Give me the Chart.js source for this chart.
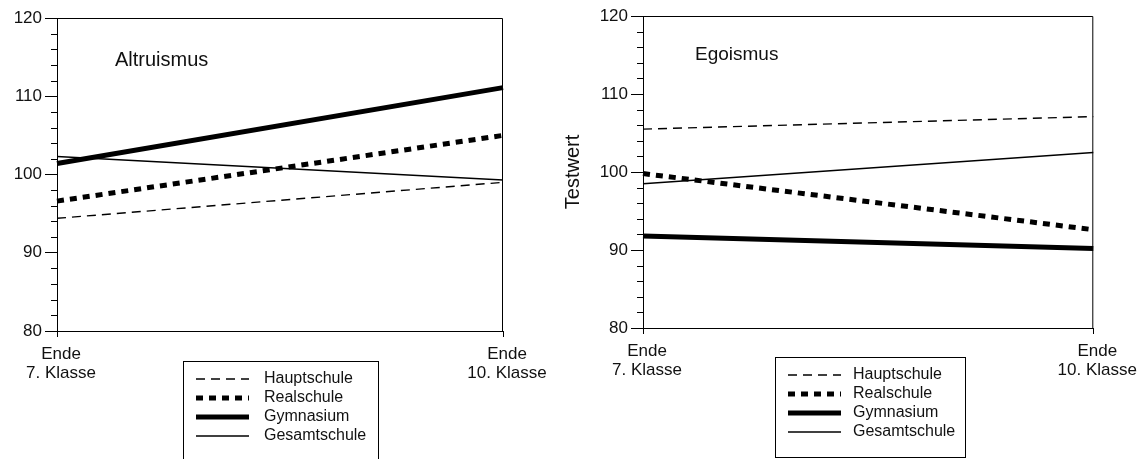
<!DOCTYPE html>
<html>
<head>
<meta charset="utf-8">
<script src="https://cdn.jsdelivr.net/npm/chart.js@4.4.1/dist/chart.umd.min.js"></script>
<style>
  html, body { margin: 0; padding: 0; background: #fff; }
  #wrap { position: relative; width: 1141px; height: 459px; overflow: hidden; }
  .panel { position: absolute; top: 0; height: 459px; }
</style>
</head>
<body>
<div id="wrap">
  <div class="panel" style="left:0; width:560px"><canvas id="altruismus"></canvas></div>
  <div class="panel" style="left:560px; width:581px"><canvas id="egoismus"></canvas></div>
</div>
<script>
// data
const categories = [['Ende', '7. Klasse'], ['Ende', '10. Klasse']];
const schoolTypes = ['Hauptschule', 'Realschule', 'Gymnasium', 'Gesamtschule'];
const yMin = 80;
const yMax = 120;

const altHauptschule = [94.4, 99.0];
const altRealschule = [96.6, 105.0];
const altGymnasium = [101.4, 111.1];
const altGesamtschule = [102.3, 99.3];

const egoHauptschule = [105.5, 107.1];
const egoRealschule = [99.8, 92.6];
const egoGymnasium = [91.8, 90.2];
const egoGesamtschule = [98.5, 102.5];

Chart.defaults.font.family = '"Liberation Sans", Arial, sans-serif';
Chart.defaults.color = '#111';

// line look per school type (same order as schoolTypes)
const lineStyles = [
    { borderWidth: 1.4, borderDash: [9, 6] },
    { borderWidth: 5, borderDash: [7, 6] },
    { borderWidth: 5, borderDash: [] },
    { borderWidth: 1.4, borderDash: [] },
];

// box around the plot (top and right sides)
const frame = {
    id: 'frame',
    beforeDatasetsDraw(chart) {
        const { ctx, chartArea: a } = chart;
        ctx.save();
        ctx.strokeStyle = '#000';
        ctx.lineWidth = 1;
        ctx.beginPath();
        ctx.moveTo(a.left, a.top + 0.5);
        ctx.lineTo(a.right - 0.5, a.top + 0.5);
        ctx.lineTo(a.right - 0.5, a.bottom);
        ctx.stroke();
        ctx.restore();
    }
};

// short minor ticks every 2 units
const minorTicks = {
    id: 'minorTicks',
    afterDraw(chart) {
        const scale = chart.scales.y;
        const ctx = chart.ctx;
        ctx.save();
        ctx.strokeStyle = '#000';
        ctx.lineWidth = 1;
        scale.ticks.forEach((t) => {
            if (t.value % 10 === 0) return;
            const y = Math.round(scale.getPixelForValue(t.value)) + 0.5;
            ctx.beginPath();
            ctx.moveTo(scale.right - 6, y);
            ctx.lineTo(scale.right, y);
            ctx.stroke();
        });
        ctx.restore();
    }
};

const panelTitle = {
    id: 'panelTitle',
    afterDraw(chart, args, opts) {
        const ctx = chart.ctx;
        ctx.save();
        ctx.fillStyle = '#111';
        ctx.font = opts.size + 'px "Liberation Sans", Arial, sans-serif';
        ctx.textBaseline = 'alphabetic';
        ctx.fillText(opts.text, chart.chartArea.left + opts.dx, chart.chartArea.top + opts.dy);
        ctx.restore();
    }
};

// boxed legend under the plot
const legendBox = {
    id: 'legendBox',
    afterDraw(chart, args, o) {
        const ctx = chart.ctx;
        ctx.save();
        ctx.strokeStyle = '#000';
        ctx.lineWidth = 1;
        ctx.strokeRect(o.x + 0.5, o.y + 0.5, o.w, o.h);
        chart.data.datasets.forEach((ds, i) => {
            const y = o.y + 18 + i * 19;
            ctx.beginPath();
            ctx.setLineDash(ds.borderDash);
            ctx.lineWidth = ds.borderWidth;
            ctx.moveTo(o.x + 13, y);
            ctx.lineTo(o.x + 66, y);
            ctx.stroke();
            ctx.setLineDash([]);
            ctx.fillStyle = '#111';
            ctx.font = '16px "Liberation Sans", Arial, sans-serif';
            ctx.textBaseline = 'middle';
            ctx.fillText(ds.label, o.x + o.textX, y);
        });
        ctx.restore();
    }
};

function makeChart(id, series, p) {
    const datasets = series.map((values, i) => ({
        label: schoolTypes[i],
        data: values,
        borderColor: '#000',
        borderWidth: lineStyles[i].borderWidth,
        borderDash: lineStyles[i].borderDash,
        borderCapStyle: 'butt',
        pointRadius: 0,
        tension: 0,
        fill: false,
    }));

    return new Chart(document.getElementById(id), {
        type: 'line',
        data: { labels: categories, datasets: datasets },
        plugins: [frame, minorTicks, panelTitle, legendBox],
        options: {
            responsive: true,
            maintainAspectRatio: false,
            animation: false,
            layout: { padding: { left: 0, right: p.right, top: p.top, bottom: 0 } },
            plugins: {
                legend: { display: false },
                tooltip: { enabled: false },
                panelTitle: p.title,
                legendBox: p.legend,
            },
            scales: {
                x: {
                    offset: false,
                    ticks: { padding: 8, labelOffset: 4, maxRotation: 0, autoSkip: false,
                             color: '#111', font: { size: 17, lineHeight: 1.1 } },
                    grid: { drawOnChartArea: false, tickLength: 6, tickColor: '#000' },
                    border: { color: '#000', width: 1 },
                    afterFit: (s) => { s.height = p.xHeight; },
                },
                y: {
                    min: yMin,
                    max: yMax,
                    ticks: {
                        stepSize: 2,
                        autoSkip: false,
                        padding: 3,
                        color: '#111',
                        font: { size: 17 },
                        callback: (v) => (v % 10 === 0 ? v : ''),
                    },
                    grid: {
                        drawOnChartArea: false,
                        tickLength: 12,
                        tickColor: (c) => (c.tick && c.tick.value % 10 === 0 ? '#000' : 'rgba(0,0,0,0)'),
                    },
                    border: { color: '#000', width: 1 },
                    title: p.yTitle,
                    afterFit: (s) => { s.width = p.yWidth; },
                },
            },
        },
    });
}

makeChart('altruismus', [altHauptschule, altRealschule, altGymnasium, altGesamtschule], {
    right: 57, top: 18, xHeight: 128, yWidth: 57,
    title: { text: 'Altruismus', dx: 58, dy: 48, size: 20 },
    legend: { x: 183, y: 361, w: 195, h: 120, textX: 81 },
    yTitle: { display: false },
});

makeChart('egoismus', [egoHauptschule, egoRealschule, egoGymnasium, egoGesamtschule], {
    right: 47, top: 16, xHeight: 131, yWidth: 83,
    title: { text: 'Egoismus', dx: 52, dy: 44, size: 19 },
    legend: { x: 215, y: 357, w: 190, h: 100, textX: 78 },
    yTitle: { display: true, text: 'Testwert', color: '#111', font: { size: 20 }, padding: { top: 1, bottom: 0 } },
});
</script>
</body>
</html>
